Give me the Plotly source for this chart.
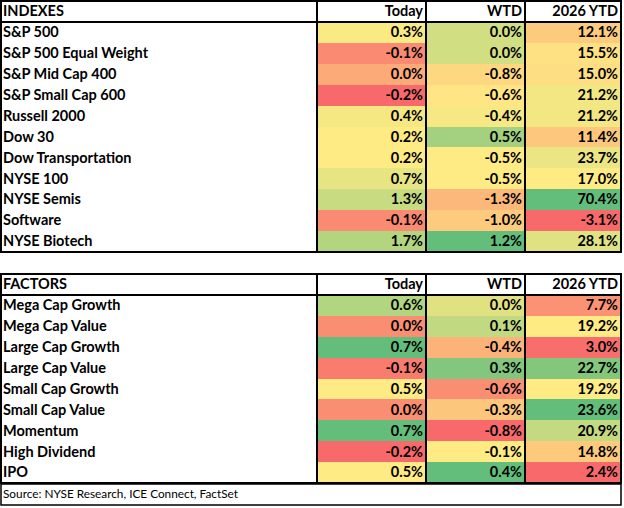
import numpy as np
import plotly.graph_objects as go

# ---------------- data ----------------
INDEX_NAMES = ["S&P 500", "S&P 500 Equal Weight", "S&P Mid Cap 400", "S&P Small Cap 600",
               "Russell 2000", "Dow 30", "Dow Transportation", "NYSE 100", "NYSE Semis",
               "Software", "NYSE Biotech"]
INDEX_TODAY = [0.3, -0.1, 0.0, -0.2, 0.4, 0.2, 0.2, 0.7, 1.3, -0.1, 1.7]
INDEX_WTD = [0.0, 0.0, -0.8, -0.6, -0.4, 0.5, -0.5, -0.5, -1.3, -1.0, 1.2]
INDEX_YTD = [12.1, 15.5, 15.0, 21.2, 21.2, 11.4, 23.7, 17.0, 70.4, -3.1, 28.1]

FACTOR_NAMES = ["Mega Cap Growth", "Mega Cap Value", "Large Cap Growth", "Large Cap Value",
                "Small Cap Growth", "Small Cap Value", "Momentum", "High Dividend", "IPO"]
FACTOR_TODAY = [0.6, 0.0, 0.7, -0.1, 0.5, 0.0, 0.7, -0.2, 0.5]
FACTOR_WTD = [0.0, 0.1, -0.4, 0.3, -0.6, -0.3, -0.8, -0.1, 0.4]
FACTOR_YTD = [7.7, 19.2, 3.0, 22.7, 19.2, 23.6, 20.9, 14.8, 2.4]

TABLE_TITLES = ["INDEXES", "FACTORS"]
COLUMN_HEADERS = ["Today", "WTD", "2026 YTD"]
SOURCE = "Source: NYSE Research, ICE Connect, FactSet"

# ---------------- style ----------------
RED, YELLOW, GREEN = "#F8696B", "#FFEB84", "#63BE7B"
FONT = "Lato"
FS = 14.5
W, H = 624, 508
COL_EDGES = [0, 317, 426, 525, 621]
HEADER_H = 21
ROW_H = 20.9
TABLE_TOPS = [1, 274]
SOURCE_BOX = (484, 505)
LINE_W = 2
TEXT_DY = 1.2

# colour-scale anchor overrides (low / high) for columns whose range extends past the shown rows
ANCHOR_OVERRIDES = {(0, 0): (None, 3.3), (0, 1): (-2.5, None)}

tables = [
    (INDEX_NAMES, [INDEX_TODAY, INDEX_WTD, INDEX_YTD]),
    (FACTOR_NAMES, [FACTOR_TODAY, FACTOR_WTD, FACTOR_YTD]),
]

bold = dict(family=FONT, size=FS, color="#000", weight="bold")
fig = go.Figure()
shapes = []

for t, (names, cols) in enumerate(tables):
    top = TABLE_TOPS[t]
    n = len(names)
    body_top = top + HEADER_H
    y_edges = [body_top + ROW_H * i for i in range(n + 1)]
    y_mid = [body_top + ROW_H * (i + 0.5) + TEXT_DY for i in range(n)]
    head_mid = top + HEADER_H / 2 + TEXT_DY
    bottom = y_edges[-1]

    for c, vals in enumerate(cols):
        lo, hi = min(vals), max(vals)
        mid = float(np.median(vals))
        o = ANCHOR_OVERRIDES.get((t, c))
        if o:
            lo = o[0] if o[0] is not None else lo
            hi = o[1] if o[1] is not None else hi
        frac = (mid - lo) / (hi - lo)
        x0, x1 = COL_EDGES[c + 1], COL_EDGES[c + 2]
        fig.add_trace(go.Heatmap(
            z=[[v] for v in vals], x=[x0, x1], y=y_edges,
            zmin=lo, zmax=hi,
            colorscale=[[0, RED], [frac, YELLOW], [1, GREEN]],
            showscale=False, hoverinfo="skip",
        ))
        fig.add_trace(go.Scatter(
            x=[x1 - 3] * n, y=y_mid, mode="text",
            text=[f"{v:.1f}%" for v in vals], textposition="middle left",
            textfont=bold, hoverinfo="skip", cliponaxis=False, showlegend=False,
        ))
        fig.add_trace(go.Scatter(
            x=[x1 - 3], y=[head_mid], mode="text",
            text=[COLUMN_HEADERS[c]], textposition="middle left",
            textfont=bold, hoverinfo="skip", cliponaxis=False, showlegend=False,
        ))

    fig.add_trace(go.Scatter(
        x=[3] * n, y=y_mid, mode="text", text=names, textposition="middle right",
        textfont=bold, hoverinfo="skip", cliponaxis=False, showlegend=False,
    ))
    fig.add_trace(go.Scatter(
        x=[3], y=[head_mid], mode="text", text=[TABLE_TITLES[t]],
        textposition="middle right",
        textfont=bold, hoverinfo="skip", cliponaxis=False, showlegend=False,
    ))

    line = dict(color="#000", width=LINE_W)
    shapes.append(dict(type="rect", x0=COL_EDGES[0] + 1, x1=COL_EDGES[-1], y0=top, y1=bottom,
                       line=line, xref="x", yref="y"))
    shapes.append(dict(type="line", x0=COL_EDGES[0], x1=COL_EDGES[-1], y0=body_top, y1=body_top,
                       line=line, xref="x", yref="y"))
    for xe in COL_EDGES[1:-1]:
        shapes.append(dict(type="line", x0=xe, x1=xe, y0=top, y1=bottom, line=line,
                           xref="x", yref="y"))

# source box
shapes.append(dict(type="rect", x0=COL_EDGES[0] + 1, x1=COL_EDGES[-1], y0=SOURCE_BOX[0],
                   y1=SOURCE_BOX[1], line=dict(color="#000", width=1.5), xref="x", yref="y"))
fig.add_trace(go.Scatter(
    x=[3], y=[(SOURCE_BOX[0] + SOURCE_BOX[1]) / 2 + 0.5], mode="text", text=[SOURCE],
    textposition="middle right", textfont=dict(family=FONT, size=11.8, color="#000"),
    hoverinfo="skip", cliponaxis=False, showlegend=False,
))

fig.update_layout(
    width=W, height=H, margin=dict(l=0, r=0, t=0, b=0),
    paper_bgcolor="white", plot_bgcolor="white",
    xaxis=dict(range=[0, W], visible=False, fixedrange=True),
    yaxis=dict(range=[H, 0], visible=False, fixedrange=True),
    shapes=shapes, showlegend=False,
)

fig.write_html("out.html", config={"displayModeBar": False},
               post_script="document.body.style.margin='0';")
